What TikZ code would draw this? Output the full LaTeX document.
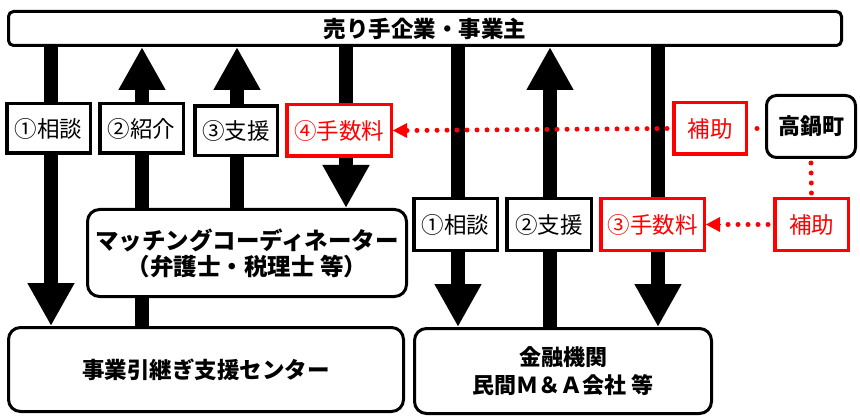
\documentclass[tikz,border=0pt]{standalone}
\usepackage{fontspec}
\newfontfamily\jp{Noto Sans CJK JP}
\usetikzlibrary{arrows.meta,backgrounds}
\tikzset{
  bx/.style={draw, line width=3pt, fill=white, inner sep=0pt, align=center, font=\jp\bfseries},
  lbl/.style={draw, line width=3.5pt, fill=white, inner sep=0pt, font=\jp\fontsize{22.5}{26}\selectfont},
  rlbl/.style={lbl, draw=red, text=red},
  bigarrow/.style={line width=14pt, -{Triangle[width=44pt,length=43pt]}},
  reddots/.style={red, line width=5pt, line cap=round, dash pattern=on 0pt off 10pt},
  redtip/.style={-{Triangle[width=15pt,length=14pt]}}
}
\begin{document}
\begin{tikzpicture}[x=1pt,y=-1pt]
\useasboundingbox (0,0) rectangle (860,417);
% boxes
\node[bx, rounded corners=5pt, minimum width=833pt, minimum height=34pt, font=\jp\bfseries\fontsize{22.5}{26}\selectfont] (top) at (425,28.5) {売り手企業・事業主};
\node[bx, rounded corners=12pt, minimum width=319pt, minimum height=87pt, font=\jp\bfseries\fontsize{23.5}{26}\selectfont] (mc) at (247,253) {マッチングコーディネーター\\（弁護士・税理士 等）};
\node[bx, rounded corners=12pt, minimum width=395pt, minimum height=84pt, font=\jp\bfseries\fontsize{22.5}{26}\selectfont] (jc) at (206,369.5) {事業引継ぎ支援センター};
\node[bx, rounded corners=12pt, minimum width=297pt, minimum height=85pt, font=\jp\bfseries\fontsize{22}{28}\selectfont] (fi) at (563,371) {金融機関\\民間Ｍ＆Ａ会社 等};
\node[bx, rounded corners=10pt, minimum width=89pt, minimum height=62pt, font=\jp\bfseries\fontsize{22}{26}\selectfont] (tk) at (811,126.5) {高鍋町};
% labels row 1
\node[lbl, minimum width=83.5pt, minimum height=49.5pt] (l1) at (48.5,128.5) {①相談};
\node[lbl, minimum width=83.5pt, minimum height=49.5pt] (l2) at (141.5,128.5) {②紹介};
\node[lbl, minimum width=82.5pt, minimum height=49.5pt] (l3) at (236,131) {③支援};
\node[rlbl, minimum width=104.5pt, minimum height=51.5pt] (l4) at (339,130.5) {④手数料};
\node[rlbl, minimum width=72.5pt, minimum height=51.5pt] (h1) at (710,128.5) {補助};
% labels row 2
\node[lbl, minimum width=83.5pt, minimum height=51.5pt] (r1) at (455.5,224.5) {①相談};
\node[lbl, minimum width=84.5pt, minimum height=51.5pt] (r2) at (549,224.5) {②支援};
\node[rlbl, minimum width=103.5pt, minimum height=51.5pt] (r3) at (652.5,224.5) {③手数料};
\node[rlbl, minimum width=73.5pt, minimum height=51.5pt] (h2) at (811.5,224.5) {補助};
% arrow columns
\coordinate (a1) at (51,0);
\coordinate (a2) at (142,0);
\coordinate (a3) at (237,0);
\coordinate (a4) at (346,0);
\coordinate (a5) at (458,0);
\coordinate (a6) at (550,0);
\coordinate (a7) at (658,0);
\begin{pgfonlayer}{background}
\draw[bigarrow] (a1 |- top.south) -- (a1 |- jc.north);
\draw[bigarrow] (a2 |- jc.north) -- (a2 |- top.south);
\draw[bigarrow] (a3 |- mc.north) -- (a3 |- top.south);
\draw[bigarrow] (a4 |- top.south) -- (a4 |- mc.north);
\draw[bigarrow] (a5 |- top.south) -- (a5 |- fi.north);
\draw[bigarrow] (a6 |- fi.north) -- (a6 |- top.south);
\draw[bigarrow] (a7 |- top.south) -- (a7 |- fi.north);
\end{pgfonlayer}
% red dotted connectors
\draw[reddots] ([xshift=-5pt]h1.west) -- ([xshift=14pt]l4.east);
\draw[red, redtip, line width=0pt] ([xshift=14pt]l4.east) -- (l4.east);
\draw[reddots] ([xshift=-5pt]h2.west) -- ([xshift=14pt]r3.east);
\draw[red, redtip, line width=0pt] ([xshift=14pt]r3.east) -- (r3.east);
\draw[reddots] ([xshift=9pt]h1.east) -- (tk.west);
\draw[reddots] ([yshift=-4pt]tk.south) -- (h2.north);
\end{tikzpicture}
\end{document}
